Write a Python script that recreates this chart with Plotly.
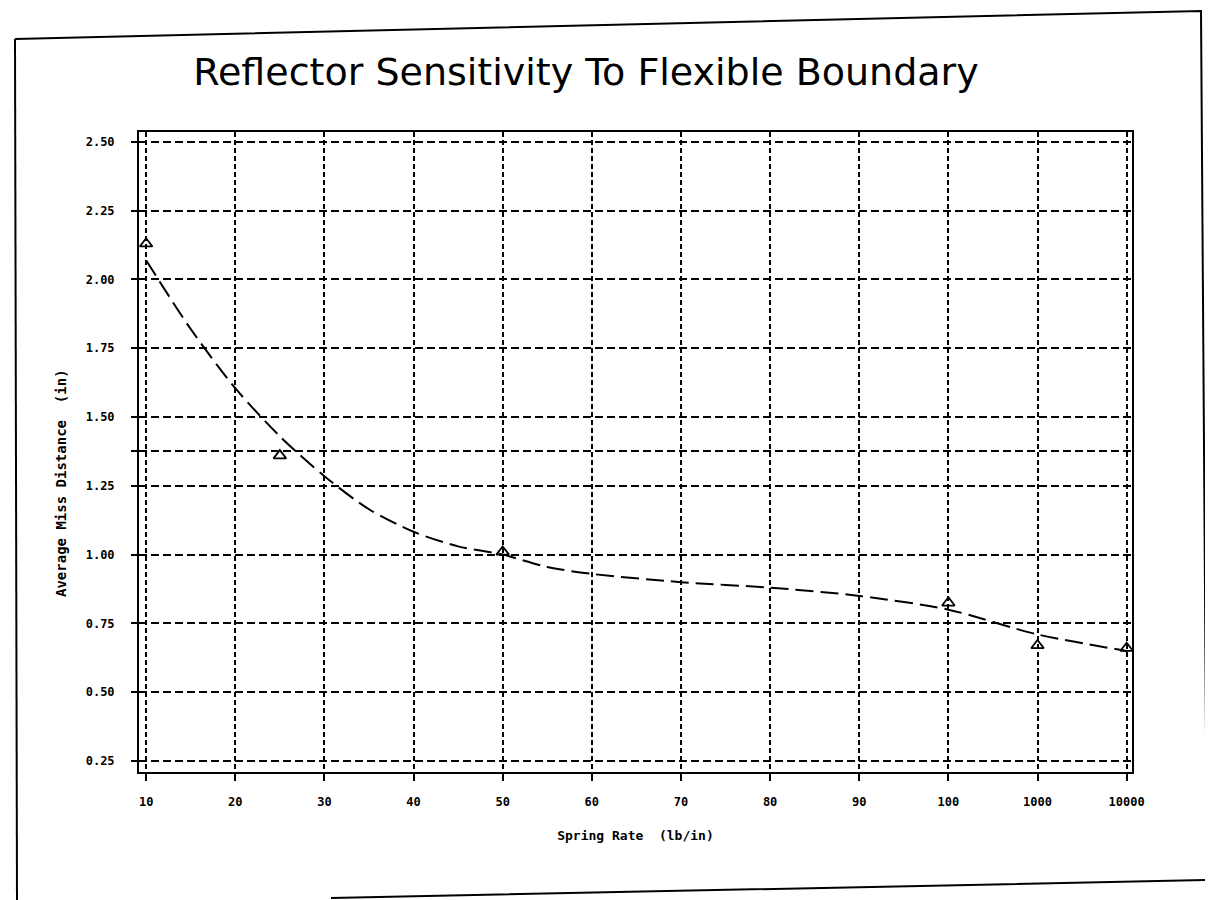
import plotly.graph_objects as go

# ---- data ----
x_labels = ["10", "20", "30", "40", "50", "60", "70", "80", "90", "100", "1000", "10000"]
x_positions = list(range(len(x_labels)))

# measured points (spring rates 10, 25, 50, 100, 1000, 10000)
meas_x = [0, 1.5, 4, 9, 10, 11]
meas_y = [2.13, 1.36, 1.01, 0.825, 0.67, 0.66]

# fitted curve (category-position scale)
fit_x = [0, 0.5, 1, 1.5, 2, 2.5, 3, 3.5, 4, 4.5, 5, 6, 7, 8, 9, 10, 11]
fit_y = [2.07, 1.82, 1.605, 1.43, 1.285, 1.165, 1.083, 1.03, 1.00, 0.955, 0.93, 0.90, 0.88, 0.85, 0.80, 0.71, 0.65]

y_tickvals = [0.25, 0.50, 0.75, 1.00, 1.25, 1.375, 1.50, 1.75, 2.00, 2.25, 2.50]
y_ticktext = ["0.25", "0.50", "0.75", "1.00", "1.25", "", "1.50", "1.75", "2.00", "2.25", "2.50"]

title_text = "Reflector Sensitivity To Flexible Boundary"
x_title = "Spring Rate  (lb/in)"
y_title = "Average Miss Distance  (in)"

# ---- layout geometry (screen pixels; page body adds an offset) ----
W, H = 1213, 900
OFF = 7
SL, SR, ST, SB = 138, 1131, 131, 771          # plot box on screen
L, R, T, B = SL - OFF, SR - OFF, ST - OFF, SB - OFF


def px(p):
    return (p - SL) / (SR - SL)


def py(p):
    return (SB - p) / (SB - ST)


fig = go.Figure()

fig.add_trace(go.Scatter(
    x=fit_x, y=fit_y, mode="lines",
    line=dict(color="black", width=2, dash="18px,7px", shape="spline", smoothing=0.8),
    showlegend=False, hoverinfo="skip",
))

fig.add_trace(go.Scatter(
    x=meas_x, y=meas_y, mode="markers",
    marker=dict(symbol="triangle-up-open", size=11, color="black", line=dict(width=1.8, color="black")),
    showlegend=False,
))

tick_font = dict(family="DejaVu Sans Mono", size=12, color="black", weight="bold")

fig.update_layout(
    width=W, height=H,
    margin=dict(l=L, r=W - R, t=T, b=H - B),
    paper_bgcolor="white", plot_bgcolor="white",
    title=dict(text=title_text, x=px(585), xref="paper", xanchor="center",
               y=1 - (72 - 8) / H, yref="container", yanchor="middle",
               font=dict(family="DejaVu Sans", size=38, color="black")),
    xaxis=dict(
        range=[-0.08, 11.06], tickmode="array", tickvals=x_positions, ticktext=x_labels,
        showline=True, linecolor="black", linewidth=2, mirror=True,
        ticks="outside", ticklen=7, tickwidth=1.8, tickcolor="black",
        showgrid=True, gridcolor="black", gridwidth=2, griddash="5px,3px",
        zeroline=False, tickfont=tick_font, ticklabelstandoff=11,
        title=dict(text=x_title, font=dict(family="DejaVu Sans Mono", size=13, color="black", weight="bold"),
                   standoff=22),
    ),
    yaxis=dict(
        range=[0.21, 2.536], tickmode="array", tickvals=y_tickvals, ticktext=y_ticktext,
        showline=True, linecolor="black", linewidth=2, mirror=True,
        ticks="outside", ticklen=6, tickwidth=1.8, tickcolor="black",
        showgrid=True, gridcolor="black", gridwidth=2, griddash="8px,4px",
        zeroline=False, tickfont=tick_font, ticklabelstandoff=14,
    ),
    annotations=[
        dict(text=y_title, xref="paper", yref="paper", x=px(60), y=py(482),
             xanchor="center", yanchor="middle", textangle=-90, showarrow=False,
             font=dict(family="DejaVu Sans Mono", size=14, color="black", weight="bold")),
    ],
    shapes=[
        # scanned page frame
        dict(type="path", xref="paper", yref="paper",
             path=f"M {px(14)} {py(38)} L {px(1200)} {py(10)} L {px(1206)} {py(879)} L {px(330)} {py(897)}",
             line=dict(color="black", width=2)),
        dict(type="line", xref="paper", yref="paper",
             x0=px(14), y0=py(38), x1=px(16), y1=py(899),
             line=dict(color="black", width=2)),
    ],
)

fig.write_html("out.html")
